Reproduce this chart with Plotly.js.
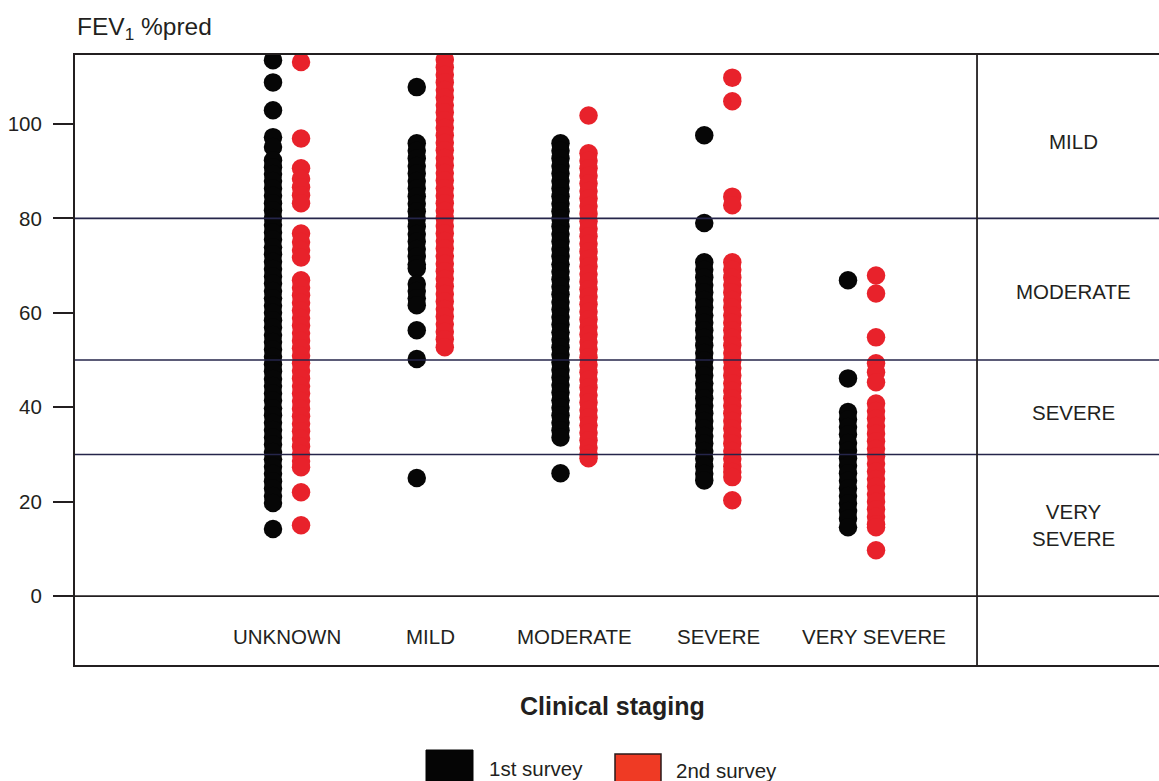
<!DOCTYPE html>
<html>
<head>
<meta charset="utf-8">
<script src="https://cdn.plot.ly/plotly-3.0.1.min.js"></script>
<style>html,body{margin:0;padding:0;background:#fff;}#chart{width:1159px;height:781px;}</style>
</head>
<body>
<div id="chart"></div>
<script>
// ---- data ----
const categories = ["UNKNOWN", "MILD", "MODERATE", "SEVERE", "VERY SEVERE"];
const seriesNames = ["1st survey", "2nd survey"];
const bandLabels = ["MILD", "MODERATE", "SEVERE", "VERY<br>SEVERE"];
const bandLimits = [80, 50, 30];
const yTicks = [0, 20, 40, 60, 80, 100];

// FEV1 %pred values read from the dot columns
const unknown1 = [113.5, 108.8, 102.9, 97.2, 95.1, 92.3, 90.8, 89.4, 87.9, 86.3, 84.8, 83.2, 81.7, 80.1, 78.6, 77.0, 75.5, 73.9, 72.4, 70.8, 69.3, 67.7, 66.2, 64.6, 63.1, 61.5, 60.0, 58.4, 56.9, 55.3, 53.8, 52.2, 50.7, 49.1, 47.6, 46.0, 44.5, 42.9, 41.4, 39.8, 38.3, 36.7, 35.2, 33.6, 32.1, 30.5, 29.0, 27.4, 25.9, 24.3, 22.8, 21.2, 19.7, 14.2];
const unknown2 = [113.1, 96.9, 90.6, 88.4, 86.6, 84.9, 83.2, 76.8, 75.0, 73.3, 71.7, 66.9, 65.3, 63.7, 62.1, 60.5, 58.9, 57.3, 55.7, 54.1, 52.5, 50.9, 49.3, 47.7, 46.1, 44.5, 42.9, 41.3, 39.7, 38.1, 36.5, 34.9, 33.3, 31.7, 30.1, 28.6, 27.3, 22.0, 15.0];
const mild1 = [107.8, 95.9, 94.3, 92.7, 91.1, 89.5, 87.9, 86.3, 84.7, 83.1, 81.5, 79.9, 78.3, 76.7, 75.1, 73.5, 71.9, 70.3, 69.4, 66.1, 64.6, 63.1, 61.6, 56.3, 50.2, 25.0];
const mild2 = [113.6, 112.0, 110.4, 108.8, 107.2, 105.6, 104.0, 102.4, 100.8, 99.2, 97.6, 96.0, 94.4, 92.8, 91.2, 89.6, 88.0, 86.4, 84.8, 83.2, 81.6, 80.0, 78.4, 76.8, 75.2, 73.6, 72.0, 70.4, 68.8, 67.2, 65.6, 64.0, 62.4, 60.8, 59.2, 57.6, 56.0, 54.4, 52.7];
const moderate1 = [95.9, 94.3, 92.7, 91.1, 89.5, 87.9, 86.3, 84.7, 83.1, 81.5, 79.9, 78.3, 76.7, 75.1, 73.5, 71.9, 70.3, 68.7, 67.1, 65.5, 63.9, 62.3, 60.7, 59.1, 57.5, 55.9, 54.3, 52.7, 51.1, 49.5, 47.9, 46.3, 44.7, 43.1, 41.5, 39.9, 38.3, 36.7, 35.1, 33.6, 26.0];
const moderate2 = [101.8, 93.8, 92.2, 90.6, 89.0, 87.4, 85.8, 84.2, 82.6, 81.0, 79.4, 77.8, 76.2, 74.6, 73.0, 71.4, 69.8, 68.2, 66.6, 65.0, 63.4, 61.8, 60.2, 58.6, 57.0, 55.4, 53.8, 52.2, 50.6, 49.0, 47.4, 45.8, 44.2, 42.6, 41.0, 39.4, 37.8, 36.2, 34.6, 33.0, 31.4, 30.1, 29.2];
const severe1 = [97.6, 79.0, 70.7, 69.1, 67.5, 65.9, 64.3, 62.7, 61.1, 59.5, 57.9, 56.3, 54.7, 53.1, 51.5, 49.9, 48.3, 46.7, 45.1, 43.5, 41.9, 40.3, 38.7, 37.1, 35.5, 33.9, 32.3, 30.7, 29.1, 27.5, 25.9, 24.5];
const severe2 = [109.8, 104.8, 84.6, 82.8, 70.7, 69.1, 67.5, 65.9, 64.3, 62.7, 61.1, 59.5, 57.9, 56.3, 54.7, 53.1, 51.5, 49.9, 48.3, 46.7, 45.1, 43.5, 41.9, 40.3, 38.7, 37.1, 35.5, 33.9, 32.3, 30.7, 29.1, 27.5, 26.3, 25.2, 20.3];
const verySevere1 = [66.9, 46.1, 39.0, 37.4, 35.8, 34.2, 32.4, 30.8, 29.2, 27.6, 26.0, 24.4, 22.8, 21.2, 19.6, 18.0, 16.4, 14.6];
const verySevere2 = [67.9, 64.1, 54.8, 49.3, 47.4, 45.3, 40.8, 39.2, 37.6, 36.0, 34.4, 32.8, 31.2, 29.6, 28.0, 26.4, 24.8, 23.2, 21.6, 20.0, 18.4, 16.8, 15.2, 14.6, 9.7];

const firstSurvey = [unknown1, mild1, moderate1, severe1, verySevere1];
const secondSurvey = [unknown2, mild2, moderate2, severe2, verySevere2];

// ---- build ----
const black = "#060606";
const red = "#e8222b";
const OFFSET = 0.0975;
function build(groups, off, color, name) {
  const xs = [], ys = [];
  groups.forEach((vals, i) => vals.forEach(v => { xs.push(i + off); ys.push(v); }));
  return {
    type: "scatter", mode: "markers", x: xs, y: ys, name: name,
    marker: {color: color, size: 18.5, line: {width: 0}},
    showlegend: false, hoverinfo: "skip", cliponaxis: true
  };
}
const traces = [
  build(firstSurvey, -OFFSET, black, seriesNames[0]),
  build(secondSurvey, OFFSET, red, seriesNames[1])
];

const txt = "#231f20";
const font = {family: "Liberation Sans, Arial, sans-serif", size: 20, color: txt};
const labFont = {family: font.family, size: 20.5, color: txt};
const DIV = 4.8, RIGHT = 5.47;

const shapes = [];
bandLimits.forEach(b => shapes.push({type: "line", xref: "paper", x0: 0, x1: 1, yref: "y", y0: b, y1: b,
  line: {color: "#25254a", width: 1.6}, layer: "above"}));
shapes.push({type: "line", xref: "paper", x0: 0, x1: 1, yref: "y", y0: 0, y1: 0, line: {color: txt, width: 1.8}, layer: "above"});
shapes.push({type: "line", xref: "x", x0: DIV, x1: DIV, yref: "paper", y0: 0, y1: 1, line: {color: txt, width: 1.8}, layer: "above"});
// legend swatches
shapes.push({type: "rect", xref: "paper", yref: "paper", x0: (426-75)/1084, x1: (473-75)/1084, y0: (665-781)/610, y1: (665-750)/610,
  fillcolor: "#050505", line: {color: "#050505", width: 1}});
shapes.push({type: "rect", xref: "paper", yref: "paper", x0: (615-75)/1084, x1: (661-75)/1084, y0: (665-782)/610, y1: (665-754)/610,
  fillcolor: "#ef3a24", line: {color: "#2a1a1a", width: 1.5}});

const annotations = [];
categories.forEach((c, i) => annotations.push({x: i, y: -8.5, xref: "x", yref: "y", text: c, showarrow: false,
  font: labFont, xshift: i === categories.length - 1 ? 12 : 0}));
const bandMids = [96.2, 64.6, 38.8, 15];
bandLabels.forEach((t, i) => annotations.push({x: RIGHT, y: bandMids[i], xref: "x", yref: "y", text: t, showarrow: false, font: labFont}));
annotations.push({xref: "paper", yref: "paper", x: (75-75)/1084, y: (665-28)/610, xanchor: "left", yanchor: "middle",
  text: "FEV<sub>1</sub> %pred", showarrow: false, font: {family: font.family, size: 24.5, color: txt}});
annotations.push({xref: "paper", yref: "paper", x: (612-75)/1084, y: (665-706)/610, xanchor: "center", yanchor: "middle",
  text: "<b>Clinical staging</b>", showarrow: false, font: {family: font.family, size: 25, color: txt}});
annotations.push({xref: "paper", yref: "paper", x: (487-75)/1084, y: (665-768)/610, xanchor: "left", yanchor: "middle",
  text: seriesNames[0], showarrow: false, font: labFont});
annotations.push({xref: "paper", yref: "paper", x: (674-75)/1084, y: (665-770)/610, xanchor: "left", yanchor: "middle",
  text: seriesNames[1], showarrow: false, font: labFont});

const layout = {
  width: 1159, height: 781,
  margin: {l: 75, r: 0, t: 55, b: 116},
  paper_bgcolor: "#fff", plot_bgcolor: "#fff",
  showlegend: false,
  font: font,
  xaxis: {range: [-1.475, 6.066], showticklabels: false, ticks: "", showgrid: false, zeroline: false,
    showline: true, mirror: true, linecolor: txt, linewidth: 2, fixedrange: true},
  yaxis: {range: [-14.6, 114.6], tickvals: yTicks, ticktext: yTicks.map(String), ticks: "outside", ticklen: 20, tickwidth: 1.8,
    tickcolor: txt, showgrid: false, zeroline: false, showline: true, mirror: false, linecolor: txt, linewidth: 2,
    tickfont: labFont, ticklabelstandoff: 7, fixedrange: true},
  shapes: shapes,
  annotations: annotations
};

Plotly.newPlot("chart", traces, layout, {displayModeBar: false, staticPlot: true});
</script>
</body>
</html>
